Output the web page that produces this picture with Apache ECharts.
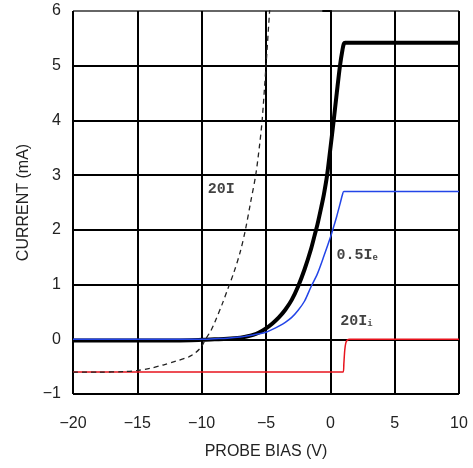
<!DOCTYPE html>
<html><head><meta charset="utf-8">
<script src="https://cdn.jsdelivr.net/npm/echarts@6/dist/echarts.min.js"></script>
<style>html,body{margin:0;padding:0;background:#fff}#c{width:473px;height:468px}</style>
</head><body><div id="c"></div>
<script>
// Tick labels
const xTicks = [-20, -15, -10, -5, 0, 5, 10];
const yTicks = [-1, 0, 1, 2, 3, 4, 5, 6];

// Total current I (thick black)
const voltsTotal = [-20, -12, -10, -9, -8, -7, -6.5, -6, -5.5, -5, -4.5, -4, -3.5, -3, -2.5, -2, -1.5, -1.2, -1, -0.7, -0.5, -0.25, 0, 0.26, 0.5, 0.75, 0.95, 1.05, 1.15, 10];
const currentTotal = [-0.02, -0.02, -0.01, 0.0, 0.01, 0.03, 0.05, 0.08, 0.13, 0.2, 0.29, 0.4, 0.54, 0.72, 0.97, 1.28, 1.65, 1.92, 2.1, 2.42, 2.65, 3.0, 3.48, 4.0, 4.5, 5.0, 5.3, 5.4, 5.42, 5.42];

// 0.5 Ie (blue)
const voltsHalfIe = [-20, -10, -9, -8, -7, -6.5, -6, -5.5, -5, -4.5, -4, -3.5, -3, -2.5, -2, -1.5, -1, -0.5, 0, 0.25, 0.5, 0.75, 0.95, 1.05, 10];
const currentHalfIe = [0, 0, 0.01, 0.02, 0.04, 0.06, 0.08, 0.1, 0.13, 0.18, 0.24, 0.31, 0.4, 0.53, 0.7, 0.96, 1.2, 1.52, 1.86, 2.05, 2.25, 2.47, 2.65, 2.7, 2.7];

// 20 Ii (red)
const voltsTwentyIi = [-20, 1.0, 1.05, 1.12, 1.2, 1.3, 1.5, 10];
const currentTwentyIi = [-0.6, -0.6, -0.45, -0.2, -0.07, -0.02, 0, 0];

// 20 I (dashed)
const voltsTwentyI = [-20, -18, -16, -15, -14, -13, -12, -11, -10.5, -10, -9.7, -9.3, -9, -8.36, -8, -7.5, -7, -6.6, -6.2, -5.8, -5.5, -5.3, -5.0, -4.72, -4.6];
const currentTwentyI = [-0.6, -0.6, -0.59, -0.57, -0.53, -0.47, -0.4, -0.32, -0.25, -0.13, 0.0, 0.15, 0.3, 0.67, 0.9, 1.22, 1.6, 2.0, 2.5, 3.0, 3.55, 4.0, 5.0, 6.0, 6.4];

// Curve annotations
const labelTexts = ['20I', '0.5I{e|e}', '20I{i|i}'];
const labelX = [-9.53, 0.47, 0.78];
const labelY = [2.74, 1.54, 0.33];

const zip = (a, b) => a.map((v, i) => [v, b[i]]);
const fmt = v => (v < 0 ? '\u2212' + Math.abs(v) : String(v));

const chart = echarts.init(document.getElementById('c'));
chart.setOption({
  animation: false,
  grid: { left: 73, right: 14, top: 11, bottom: 74 },
  xAxis: {
    type: 'value', min: xTicks[0], max: xTicks[xTicks.length - 1], interval: 5,
    name: 'PROBE BIAS (V)', nameLocation: 'middle', nameGap: 50,
    nameTextStyle: { fontFamily: 'Liberation Sans', fontSize: 16, color: '#222' },
    axisLine: { lineStyle: { color: '#000', width: 2 } },
    axisTick: { show: true, length: 10, lineStyle: { color: '#000', width: 2 } },
    axisLabel: { formatter: fmt, fontFamily: 'Liberation Sans', fontSize: 16, color: '#222', margin: 22 },
    splitLine: { show: true, lineStyle: { color: '#000', width: 2 } }
  },
  yAxis: {
    type: 'value', min: yTicks[0], max: yTicks[yTicks.length - 1], interval: 1,
    name: 'CURRENT (mA)', nameLocation: 'middle', nameGap: 33,
    nameTextStyle: { fontFamily: 'Liberation Sans', fontSize: 16, color: '#222' },
    axisLine: { show: true, lineStyle: { color: '#000', width: 2 } },
    axisTick: { show: true, length: 8, lineStyle: { color: '#000', width: 2 } },
    axisLabel: { formatter: fmt, fontFamily: 'Liberation Sans', fontSize: 16, color: '#222', margin: 12 },
    splitLine: { show: true, lineStyle: { color: ['#000', '#000', '#000', '#000', '#000', '#000', '#000', '#666'], width: 2 } }
  },
  series: [
    { type: 'line', data: zip(voltsTotal, currentTotal), showSymbol: false, smooth: 0.3,
      lineStyle: { color: '#000', width: 4 }, z: 3 },
    { type: 'line', data: zip(voltsHalfIe, currentHalfIe), showSymbol: false, smooth: 0.3,
      lineStyle: { color: '#2345e8', width: 1.5 }, z: 4 },
    { type: 'line', data: zip(voltsTwentyIi, currentTwentyIi), showSymbol: false, smooth: 0.2,
      lineStyle: { color: '#e8141e', width: 1.5 }, z: 4 },
    { type: 'line', data: zip(voltsTwentyI, currentTwentyI), showSymbol: false, smooth: 0.3,
      lineStyle: { color: '#222', width: 1.3, type: [5, 4] }, z: 5 },
    { type: 'scatter', symbolSize: 0, z: 6,
      data: labelTexts.map((t, i) => ({ value: [labelX[i], labelY[i]], name: t })),
      label: { show: true, position: 'right', distance: 0, formatter: p => p.name,
        fontFamily: 'Liberation Mono', fontSize: 15, fontWeight: 'bold', color: '#111',
        rich: {
          e: { fontFamily: 'Liberation Mono', fontSize: 9, fontWeight: 'bold', color: '#111', verticalAlign: 'bottom', padding: [6, 0, 0, 0] },
          i: { fontFamily: 'Liberation Mono', fontSize: 9, fontWeight: 'bold', color: '#111', verticalAlign: 'bottom', padding: [6, 0, 0, 0] }
        } }
    }
  ]
});
</script></body></html>
